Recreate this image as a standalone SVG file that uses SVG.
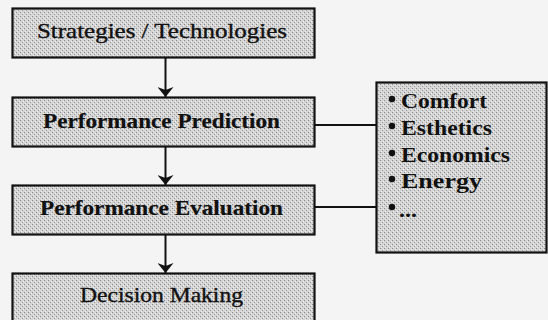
<svg xmlns="http://www.w3.org/2000/svg" width="548" height="320" viewBox="0 0 548 320">
  <defs>
    <!-- halftone-like grey fill -->
    <pattern id="screen" width="4" height="4" patternUnits="userSpaceOnUse">
      <rect width="4" height="4" fill="#d4d4d4"/>
      <rect x="0" y="0" width="1" height="1" fill="#8a8a8a"/>
      <rect x="2" y="2" width="1" height="1" fill="#9a9a9a"/>
      <rect x="3" y="1" width="1" height="1" fill="#f0f0f0"/>
      <rect x="1" y="3" width="1" height="1" fill="#ebebeb"/>
    </pattern>
    <marker id="arrow" viewBox="0 0 10 16" refX="10" refY="8" markerWidth="10" markerHeight="16" markerUnits="userSpaceOnUse" orient="auto">
      <path d="M0,0 L10,8 L0,16 L3,8 Z" fill="#111"/>
    </marker>
    <style>
      .box { fill: url(#screen); stroke: #111; stroke-width: 2.2; }
      .lbl { font-family: "Liberation Serif", "Times New Roman", serif; font-size: 21px; fill: #111; stroke: #111; stroke-width: 0.35; }
      .bold { font-weight: bold; stroke-width: 0.2; }
      .item { font-family: "Liberation Serif", "Times New Roman", serif; font-size: 20px; font-weight: bold; fill: #111; }
      .conn { stroke: #111; stroke-width: 2; fill: none; }
      .dot { fill: #111; }
    </style>
  </defs>

  <rect width="548" height="320" fill="#f4f4f4"/>

  <g id="connectors">
    <line class="conn" x1="165.5" y1="57" x2="165.5" y2="97" marker-end="url(#arrow)"/>
    <line class="conn" x1="165.5" y1="147" x2="165.5" y2="185" marker-end="url(#arrow)"/>
    <line class="conn" x1="165.5" y1="234" x2="165.5" y2="273" marker-end="url(#arrow)"/>
    <line class="conn" x1="314" y1="125" x2="377" y2="125"/>
    <line class="conn" x1="314" y1="207" x2="377" y2="207"/>
  </g>

  <g id="strategies">
    <rect class="box" x="12.5" y="8.5" width="302" height="49"/>
    <text class="lbl" x="37" y="38" textLength="250" lengthAdjust="spacingAndGlyphs">Strategies / Technologies</text>
  </g>

  <g id="prediction">
    <rect class="box" x="12.5" y="97.5" width="302" height="49"/>
    <text class="lbl bold" x="43" y="128" textLength="237" lengthAdjust="spacingAndGlyphs">Performance Prediction</text>
  </g>

  <g id="evaluation">
    <rect class="box" x="12.5" y="185.5" width="302" height="49"/>
    <text class="lbl bold" x="40" y="215" textLength="243" lengthAdjust="spacingAndGlyphs">Performance Evaluation</text>
  </g>

  <g id="decision">
    <rect class="box" x="12.5" y="273.5" width="302" height="52"/>
    <text class="lbl" x="80" y="302" textLength="163" lengthAdjust="spacingAndGlyphs">Decision Making</text>
  </g>

  <g id="criteria">
    <rect class="box" x="376.5" y="82.5" width="170" height="170"/>
    <circle class="dot" cx="392" cy="99" r="3.2"/>
    <text class="item" x="401" y="108" textLength="86" lengthAdjust="spacingAndGlyphs">Comfort</text>
    <circle class="dot" cx="392" cy="126" r="3.2"/>
    <text class="item" x="401" y="135" textLength="91" lengthAdjust="spacingAndGlyphs">Esthetics</text>
    <circle class="dot" cx="392" cy="153" r="3.2"/>
    <text class="item" x="401" y="162" textLength="109" lengthAdjust="spacingAndGlyphs">Economics</text>
    <circle class="dot" cx="392" cy="179" r="3.2"/>
    <text class="item" x="401" y="188" textLength="81" lengthAdjust="spacingAndGlyphs">Energy</text>
    <circle class="dot" cx="392" cy="207" r="3.2"/>
    <text class="item" x="399" y="217" textLength="18" lengthAdjust="spacingAndGlyphs">...</text>
  </g>
</svg>
